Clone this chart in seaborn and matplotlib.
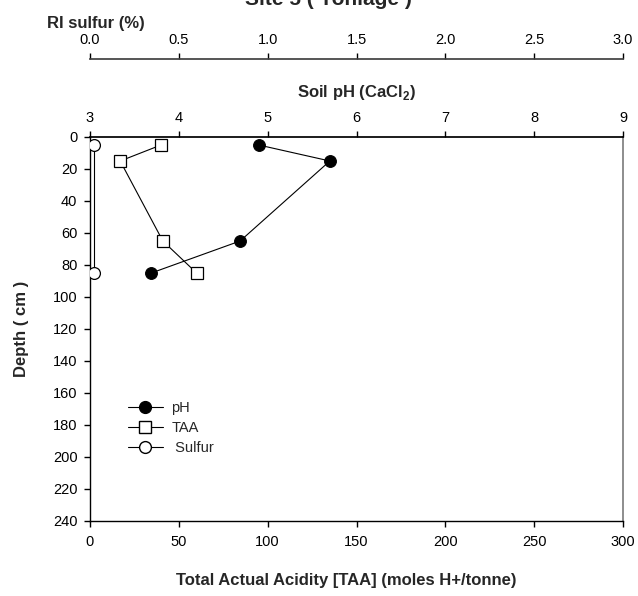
"""
Soil profile chart: pH, total actual acidity and sulfur against depth
for one site, with three stacked x axes sharing the depth axis.
"""
import matplotlib
matplotlib.use("Agg")
import matplotlib.pyplot as plt
from matplotlib.lines import Line2D
import seaborn as sns

sns.set_theme(style="ticks")
plt.rcParams['font.family'] = ['Liberation Sans', 'DejaVu Sans']
plt.rcParams['mathtext.fontset'] = 'custom'
plt.rcParams['mathtext.rm'] = 'Liberation Sans'
plt.rcParams['mathtext.bf'] = 'Liberation Sans:bold'

# data
depth = [5, 15, 65, 85]
ph = [4.90, 5.70, 4.69, 3.69]
taa = [40, 17, 41, 60]
sulfur_depth = [5, 85]
sulfur = [0.024, 0.024]

taa_ticks = [0, 50, 100, 150, 200, 250, 300]
ph_ticks = [3, 4, 5, 6, 7, 8, 9]
sulfur_ticks = [0.0, 0.5, 1.0, 1.5, 2.0, 2.5, 3.0]
depth_ticks = list(range(0, 241, 20))

LW = 0.8
MS = 8.5
LABEL_FS = 12
TICK_FS = 10.5

fig = plt.figure(figsize=(6.38, 5.96), dpi=100)
ax = fig.add_axes([90 / 638, 1 - 521 / 596, 533 / 638, 384 / 596])

tick_kw = dict(direction="out", length=4, width=1, colors="black", labelsize=TICK_FS)

# bottom axis: TAA
sns.lineplot(x=taa, y=depth, ax=ax, sort=False, estimator=None, color="black",
             linewidth=LW, marker="s", markersize=MS, markerfacecolor="white",
             markeredgecolor="black", markeredgewidth=0.9)
ax.set_xlim(0, 300)
ax.set_ylim(240, 0)
ax.set_xticks(taa_ticks)
ax.set_yticks(depth_ticks)
ax.tick_params(axis="x", pad=6, **tick_kw)
ax.tick_params(axis="y", pad=5, **tick_kw)
ax.set_xlabel("Total Actual Acidity [TAA] (moles H+/tonne)", fontsize=LABEL_FS, fontweight="bold")
ax.xaxis.set_label_coords(0.48, -0.135)
ax.set_ylabel("Depth ( cm )", fontsize=LABEL_FS, fontweight="bold")
ax.yaxis.set_label_coords(-0.115, 0.5)
ax.spines["top"].set_visible(False)
ax.spines["right"].set_color("#808080")
for s in ["left", "bottom"]:
    ax.spines[s].set_color("black")
    ax.spines[s].set_linewidth(1)

# top axis: pH
ax_ph = ax.twiny()
sns.lineplot(x=ph, y=depth, ax=ax_ph, sort=False, estimator=None, color="black",
             linewidth=LW, marker="o", markersize=MS, markerfacecolor="black",
             markeredgecolor="black")
ax_ph.set_xlim(3, 9)
ax_ph.set_ylim(240, 0)
ax_ph.set_xticks(ph_ticks)
ax_ph.tick_params(axis="x", pad=5, **tick_kw)
ax_ph.set_xlabel(r"Soil pH (CaCl$_{\mathbf{2}}$)", fontsize=LABEL_FS, fontweight="bold")
ax_ph.xaxis.set_label_coords(0.5, 1.105)
for s in ["left", "right", "bottom"]:
    ax_ph.spines[s].set_visible(False)
ax_ph.spines["top"].set_color("black")

# outer top axis: sulfur
ax_s = ax.twiny()
sns.lineplot(x=sulfur, y=sulfur_depth, ax=ax_s, sort=False, estimator=None, color="black",
             linewidth=LW, marker="o", markersize=MS, markerfacecolor="white",
             markeredgecolor="black", markeredgewidth=0.9)
ax_s.set_xlim(0, 3)
ax_s.set_ylim(240, 0)
ax_s.set_xticks(sulfur_ticks)
ax_s.set_xticklabels([f"{v:.1f}" for v in sulfur_ticks])
ax_s.tick_params(axis="x", pad=5, **tick_kw)
ax_s.spines["top"].set_position(("axes", 1 + 78 / 384))
ax_s.spines["top"].set_color("#404040")
for s in ["left", "right", "bottom"]:
    ax_s.spines[s].set_visible(False)
ax_s.set_xlabel("RI sulfur (%)", fontsize=LABEL_FS, fontweight="bold")
ax_s.xaxis.label.set_ha("left")
ax_s.xaxis.set_label_coords(-0.081, 1.285)

fig.text(328 / 638, 1 - 5 / 596, "Site 5 ( Yonlage )", ha="center", va="baseline",
         fontsize=15, fontweight="bold")

handles = [
    Line2D([], [], color="black", lw=LW, marker="o", ms=MS, mfc="black", mec="black"),
    Line2D([], [], color="black", lw=LW, marker="s", ms=MS, mfc="white", mec="black"),
    Line2D([], [], color="black", lw=LW, marker="o", ms=MS, mfc="white", mec="black"),
]
ax_s.legend(handles, ["pH", "TAA", " Sulfur"], loc="upper left",
            bbox_to_anchor=(0.057, 0.331), frameon=False, fontsize=TICK_FS,
            handlelength=2.4, handletextpad=0.6, labelspacing=0.4, borderpad=0)

fig.savefig("out.png", dpi=100)
